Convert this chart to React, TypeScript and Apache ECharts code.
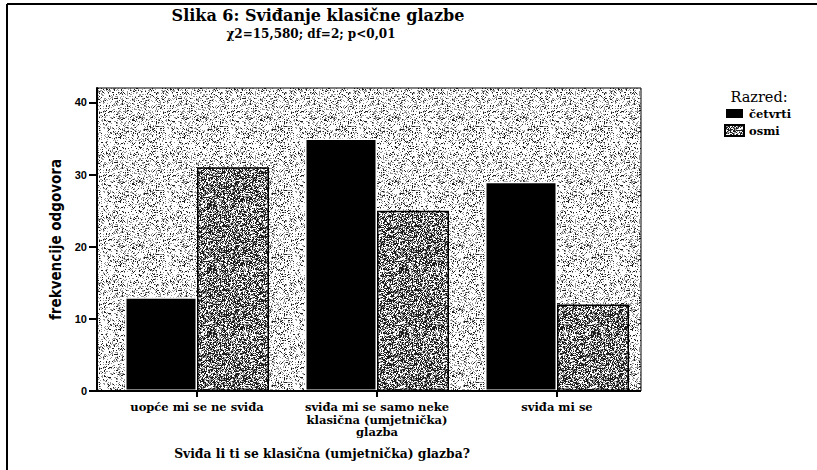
import React, { useEffect, useRef } from "react";
import * as echarts from "echarts";

const categories = [
  "uopće mi se ne sviđa",
  "sviđa mi se samo neke\nklasična (umjetnička)\nglazba",
  "sviđa mi se",
];
const seriesNames = ["četvrti", "osmi"];
const cetvrti = [13, 35, 29];
const osmi = [31, 25, 12];
const yTicks = [0, 10, 20, 30, 40];

const titleText = "Slika 6: Sviđanje klasične glazbe";
const subtitleText = "χ2=15,580; df=2; p<0,01";
const xAxisTitle = "Sviđa li ti se klasična (umjetnička) glazba?";
const yAxisTitle = "frekvencije odgovora";
const legendTitle = "Razred:";

// deterministic stipple texture (style only)
function makeStipple(density: number, darkShare: number, seed: number) {
  const size = 64;
  const c = document.createElement("canvas");
  c.width = size;
  c.height = size;
  const ctx = c.getContext("2d")!;
  const img = ctx.createImageData(size, size);
  for (let y = 0; y < size; y++) {
    for (let x = 0; x < size; x++) {
      let h = (x * 374761393 + y * 668265263 + seed * 2147483647) | 0;
      h = Math.imul(h ^ (h >>> 13), 1274126177);
      h = h ^ (h >>> 16);
      const r = ((h >>> 0) % 10000) / 10000;
      let v = 255;
      if (r < density) {
        v = r < density * darkShare ? 30 : 150;
      }
      const i = (y * size + x) * 4;
      img.data[i] = v;
      img.data[i + 1] = v;
      img.data[i + 2] = v;
      img.data[i + 3] = 255;
    }
  }
  ctx.putImageData(img, 0, 0);
  return c;
}

export default function App() {
  const ref = useRef<HTMLDivElement>(null);
  useEffect(() => {
    if (!ref.current) return;
    const chart = echarts.init(ref.current, undefined, { renderer: "svg" });
    const bgPattern = { image: makeStipple(0.28, 0.35, 7), repeat: "repeat" } as any;
    const barPattern = { image: makeStipple(0.68, 0.62, 13), repeat: "repeat" } as any;
    const serif = "'DejaVu Serif', serif";
    const plotL = 97,
      plotR = 641,
      plotT = 88,
      plotB = 391;
    chart.setOption({
      animation: false,
      backgroundColor: "#ffffff",
      grid: { left: 107, right: 817 - 647, top: plotT, bottom: 470 - plotB },
      legend: {
        orient: "vertical",
        left: 724,
        top: 107,
        itemWidth: 19,
        itemHeight: 11,
        itemGap: 4,
        padding: 0,
        icon: "rect",
        data: seriesNames,
        textStyle: { fontFamily: serif, fontWeight: "bold", fontSize: 11.5, color: "#000" },
      },
      xAxis: {
        type: "category",
        data: categories,
        axisLine: { show: false },
        axisTick: { show: true, alignWithLabel: true, length: 6, lineStyle: { color: "#000", width: 2 } },
        axisLabel: {
          interval: 0,
          margin: 10,
          fontFamily: serif,
          fontWeight: "bold",
          fontSize: 11.5,
          lineHeight: 12.5,
          color: "#000",
        },
      },
      yAxis: {
        type: "value",
        min: 0,
        max: 42,
        interval: 10,
        offset: 10,
        name: yAxisTitle,
        nameLocation: "middle",
        nameGap: 28,
        nameTextStyle: {
          fontFamily: "'Liberation Sans Narrow', 'DejaVu Sans Condensed', sans-serif",
          fontWeight: "bold",
          fontSize: 15,
          color: "#000",
        },
        axisLine: { show: true, lineStyle: { color: "#000", width: 2 } },
        axisTick: { show: true, length: 8, customValues: yTicks, lineStyle: { color: "#000", width: 2 } },
        axisLabel: {
          customValues: yTicks,
          margin: 10,
          fontFamily: "'Liberation Sans', sans-serif",
          fontWeight: "bold",
          fontSize: 11,
          color: "#000",
        },
        splitLine: { show: false },
      },
      series: [
        {
          name: seriesNames[0],
          type: "bar",
          data: cetvrti,
          barWidth: 72,
          barGap: "0%",
          itemStyle: { color: "#000", borderColor: "#fff", borderWidth: 1.5 },
        },
        {
          name: seriesNames[1],
          type: "bar",
          data: osmi,
          barWidth: 72,
          itemStyle: { color: barPattern, borderColor: "#000", borderWidth: 1.5 },
        },
      ],
      graphic: [
        {
          type: "rect",
          z: -10,
          silent: true,
          shape: { x: plotL, y: plotT, width: plotR - plotL, height: plotB - plotT },
          style: { fill: bgPattern, stroke: "#000", lineWidth: 1 },
        },
        {
          type: "line",
          z: 10,
          shape: { x1: plotL - 1, y1: plotB, x2: plotR, y2: plotB },
          style: { stroke: "#000", lineWidth: 2 },
        },
        {
          type: "line",
          shape: { x1: 7, y1: 4, x2: 817, y2: 4 },
          style: { stroke: "#000", lineWidth: 2 },
        },
        {
          type: "line",
          shape: { x1: 7, y1: 4, x2: 7, y2: 470 },
          style: { stroke: "#000", lineWidth: 2 },
        },
        {
          type: "text",
          x: 318,
          y: 15,
          style: { text: titleText, fontFamily: serif, fontWeight: "bold", fontSize: 16, fill: "#000", align: "center", verticalAlign: "middle" },
        },
        {
          type: "text",
          x: 311,
          y: 34,
          style: { text: subtitleText, fontFamily: serif, fontWeight: "bold", fontSize: 12, fill: "#000", align: "center", verticalAlign: "middle" },
        },
        {
          type: "text",
          x: 322,
          y: 453,
          style: { text: xAxisTitle, fontFamily: serif, fontWeight: "bold", fontSize: 12.3, fill: "#000", align: "center", verticalAlign: "middle" },
        },
        {
          type: "text",
          x: 759,
          y: 97,
          style: { text: legendTitle, fontFamily: serif, fontSize: 14.5, fill: "#000", align: "center", verticalAlign: "middle" },
        },
      ],
    });
    return () => chart.dispose();
  }, []);
  return <div ref={ref} style={{ width: 817, height: 470, position: "absolute", left: 0, top: 0 }} />;
}
